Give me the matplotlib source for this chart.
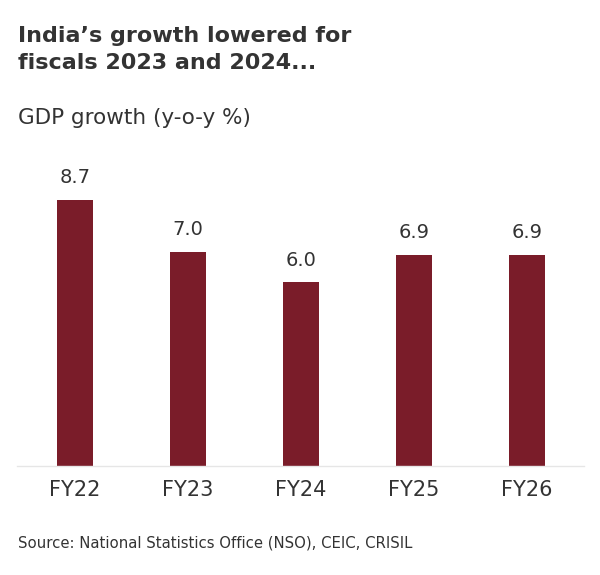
import matplotlib.pyplot as plt

years = ["FY22", "FY23", "FY24", "FY25", "FY26"]
growth = [8.7, 7.0, 6.0, 6.9, 6.9]

BAR = "#7a1c29"
TEXT = "#333333"

plt.rcParams["font.family"] = ["DejaVu Sans"]

fig = plt.figure(figsize=(6.0, 5.75), dpi=100)
ax = fig.add_axes([17 / 600, 1 - 466 / 575, 567 / 600, 306 / 575])

x = range(len(years))
ax.bar(x, growth, width=0.32, color=BAR, zorder=2)
for xi, v in zip(x, growth):
    ax.text(xi, v + 0.42, f"{v:.1f}", ha="center", va="bottom", fontsize=14, color=TEXT)

ax.set_xlim(-0.513, 4.504)
ax.set_ylim(0, 10)
ax.set_xticks(list(x))
ax.set_xticklabels(years, fontsize=15, color=TEXT)
ax.tick_params(axis="x", length=0, pad=10)
ax.set_yticks([])
for s in ["top", "right", "left"]:
    ax.spines[s].set_visible(False)
ax.spines["bottom"].set_color("#e6e6e6")
ax.spines["bottom"].set_linewidth(1.0)

fig.text(18 / 600, 1 - 36 / 575, "India\u2019s growth lowered for", fontsize=16, fontweight="bold",
         color=TEXT, ha="left", va="center")
fig.text(18 / 600, 1 - 63 / 575, "fiscals 2023 and 2024...", fontsize=16, fontweight="bold",
         color=TEXT, ha="left", va="center")
fig.text(18 / 600, 1 - 118 / 575, "GDP growth (y-o-y %)", fontsize=15.5, color=TEXT, ha="left", va="center")
fig.text(18 / 600, 1 - 543 / 575, "Source: National Statistics Office (NSO), CEIC, CRISIL", fontsize=10.7,
         color=TEXT, ha="left", va="center")

fig.savefig("out.png", dpi=100, facecolor="white")
